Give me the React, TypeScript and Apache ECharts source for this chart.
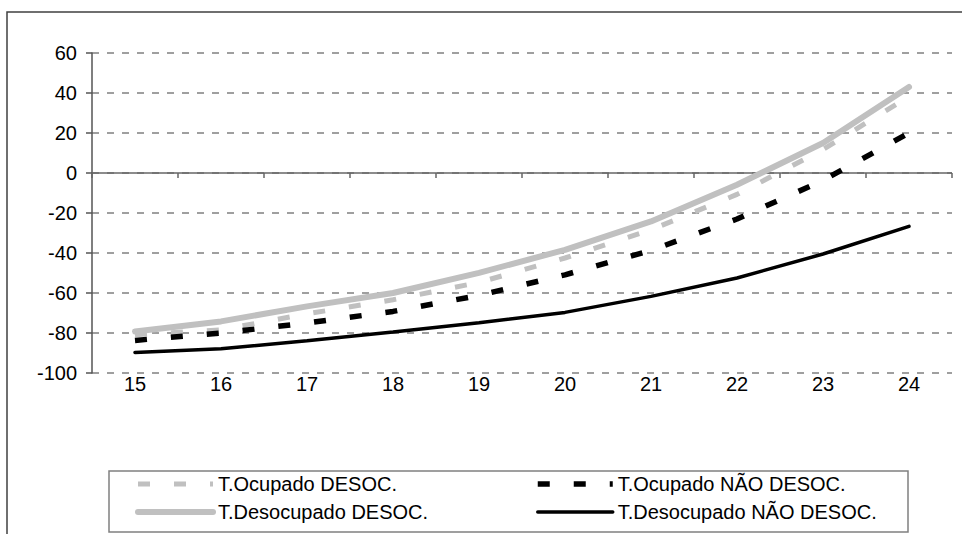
import React, { useEffect, useRef } from "react";
import * as echarts from "echarts";

const categories = ["15", "16", "17", "18", "19", "20", "21", "22", "23", "24"];
const ocupadoDesoc = [-80.9, -78.4, -70.4, -63.4, -54.7, -42.5, -28.4, -10.7, 11.7, 38.3];
const ocupadoNaoDesoc = [-83.7, -80, -75, -69.2, -61.2, -50.9, -38.7, -23, -3.7, 20];
const desocupadoDesoc = [-79.2, -74.2, -66.7, -60, -49.9, -38.4, -24.2, -5.9, 15, 43];
const desocupadoNaoDesoc = [-89.7, -87.9, -83.9, -79.5, -74.9, -69.7, -61.7, -52.5, -40.5, -26.7];
const seriesNames = [
  "T.Ocupado DESOC.",
  "T.Ocupado NÃO DESOC.",
  "T.Desocupado DESOC.",
  "T.Desocupado NÃO DESOC.",
];

const FONT = "'Liberation Sans', Arial, sans-serif";
const FS = 20;
const GREY = "#c0c0c0";
const BLACK = "#000000";
const DASH = [12, 24];
const AXIS_GREY = "#666666";

export default function App() {
  const ref = useRef<HTMLDivElement>(null);
  useEffect(() => {
    if (!ref.current) return;
    const chart = echarts.init(ref.current, null, { renderer: "svg" });
    const hiddenSymbol = { color: "transparent", borderWidth: 0, opacity: 0 };
    const legendText = { fontSize: FS, color: "#000000", fontFamily: FONT, lineHeight: 18 };
    const legendBase = {
      orient: "vertical",
      top: 474,
      padding: 0,
      itemWidth: 75,
      itemHeight: 14,
      itemGap: 8,
      textStyle: legendText,
      itemStyle: hiddenSymbol,
    };
    const zeroAxisData = categories.map((_, i) => [i, 0]);
    chart.setOption({
      animation: false,
      backgroundColor: "#ffffff",
      textStyle: { fontFamily: FONT },
      grid: { left: 92, right: 10, top: 53, bottom: 161 },
      xAxis: {
        type: "category",
        data: categories,
        boundaryGap: true,
        axisLine: { show: false, onZero: false },
        axisTick: { show: false },
        axisLabel: { color: "#000000", fontSize: FS, fontFamily: FONT, margin: 1 },
        splitLine: { show: false },
      },
      yAxis: {
        type: "value",
        min: -100,
        max: 60,
        interval: 20,
        axisLine: { show: true, lineStyle: { color: "#555555", width: 1.5 } },
        axisTick: { show: true, length: 6, lineStyle: { color: "#555555", width: 1.5 } },
        axisLabel: { color: "#000000", fontSize: FS, fontFamily: FONT, margin: 15 },
        splitLine: { show: true, lineStyle: { color: "#808080", width: 1.5, type: [7, 8] } },
      },
      legend: [
        {
          ...legendBase,
          left: 135,
          data: [
            { name: seriesNames[0], itemStyle: hiddenSymbol, lineStyle: { color: GREY, width: 5, type: DASH } },
            { name: seriesNames[2], itemStyle: hiddenSymbol, lineStyle: { color: GREY, width: 6, type: "solid" } },
          ],
        },
        {
          ...legendBase,
          left: 535,
          data: [
            { name: seriesNames[1], itemStyle: hiddenSymbol, lineStyle: { color: BLACK, width: 5.5, type: DASH } },
            { name: seriesNames[3], itemStyle: hiddenSymbol, lineStyle: { color: BLACK, width: 3.5, type: "solid" } },
          ],
        },
      ],
      graphic: [
        {
          type: "rect",
          shape: { x: 7, y: 12, width: 1000, height: 600 },
          style: { fill: "none", stroke: "#404040", lineWidth: 1.5 },
          silent: true,
        },
        {
          type: "rect",
          shape: { x: 109, y: 471, width: 799, height: 61 },
          style: { fill: "none", stroke: "#808080", lineWidth: 1.5 },
          silent: true,
        },
      ],
      series: [
        {
          name: "zeroAxis",
          type: "custom",
          data: zeroAxisData,
          z: 1,
          silent: true,
          clip: false,
          renderItem: (params: any, api: any) => {
            const idx = api.value(0);
            const p = api.coord([idx, 0]);
            const w = api.size([1, 0])[0];
            const x0 = p[0] - w / 2;
            const x1 = p[0] + w / 2;
            const y = p[1];
            const style = { stroke: AXIS_GREY, lineWidth: 1.5 };
            const children: any[] = [
              { type: "line", shape: { x1: x0, y1: y, x2: x1, y2: y }, style },
              { type: "line", shape: { x1: x0, y1: y, x2: x0, y2: y + 5 }, style },
            ];
            if (idx === categories.length - 1) {
              children.push({ type: "line", shape: { x1: x1, y1: y, x2: x1, y2: y + 5 }, style });
            }
            return { type: "group", children };
          },
        },
        {
          name: seriesNames[0],
          type: "line",
          data: ocupadoDesoc,
          symbol: "none",
          z: 3,
          lineStyle: { color: GREY, width: 5, type: DASH },
          itemStyle: { color: GREY },
        },
        {
          name: seriesNames[1],
          type: "line",
          data: ocupadoNaoDesoc,
          symbol: "none",
          z: 4,
          lineStyle: { color: BLACK, width: 5.5, type: DASH },
          itemStyle: { color: BLACK },
        },
        {
          name: seriesNames[2],
          type: "line",
          data: desocupadoDesoc,
          symbol: "none",
          z: 2,
          lineStyle: { color: GREY, width: 6, cap: "round" },
          itemStyle: { color: GREY },
        },
        {
          name: seriesNames[3],
          type: "line",
          data: desocupadoNaoDesoc,
          symbol: "none",
          z: 5,
          lineStyle: { color: BLACK, width: 3.5, cap: "round" },
          itemStyle: { color: BLACK },
        },
      ],
    });
    return () => chart.dispose();
  }, []);
  return (
    <div
      ref={ref}
      style={{ position: "fixed", left: 0, top: 0, width: 962, height: 534 }}
    />
  );
}
